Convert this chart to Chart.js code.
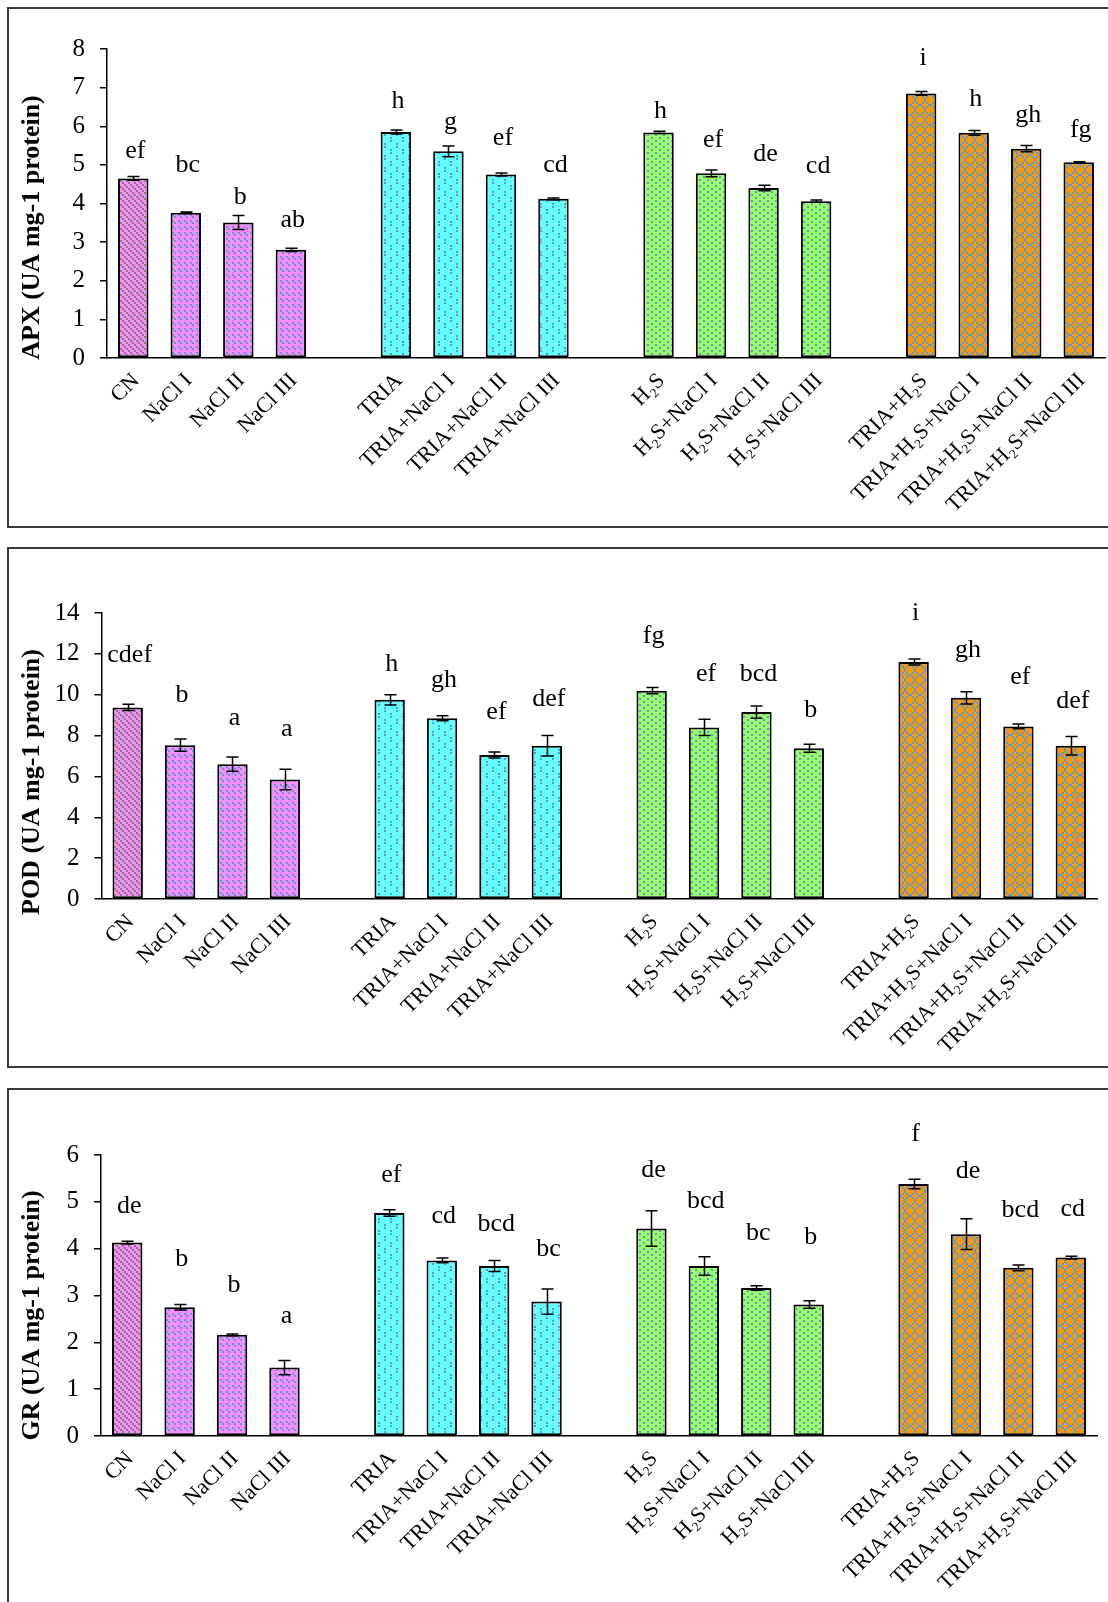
<!DOCTYPE html>
<html>
<head>
<meta charset="utf-8">
<script src="https://cdn.jsdelivr.net/npm/chart.js@4.4.1/dist/chart.umd.min.js"></script>
<style>
  html, body { margin: 0; padding: 0; background: #fff; }
  body { width: 1108px; height: 1602px; overflow: hidden; position: relative; }
  .frame { position: absolute; left: 7px; width: 1200px; border: 2px solid #3a3a3a; border-right: none; box-sizing: border-box; }
  .wrap { position: absolute; left: 10px; width: 1098px; }
</style>
</head>
<body>
<div class="frame" style="top:7px;height:521px"></div>
<div class="frame" style="top:547px;height:521px"></div>
<div class="frame" style="top:1088px;height:600px"></div>

<div class="wrap" style="top:10px;height:514px"><canvas id="apx"></canvas></div>
<div class="wrap" style="top:550px;height:515px"><canvas id="pod"></canvas></div>
<div class="wrap" style="top:1091px;height:511px"><canvas id="gr"></canvas></div>

<script>
// Treatments (blank entries separate the four treatment groups)
const categories = [
  'CN', 'NaCl I', 'NaCl II', 'NaCl III', '',
  'TRIA', 'TRIA+NaCl I', 'TRIA+NaCl II', 'TRIA+NaCl III', '',
  'H\u2082S', 'H\u2082S+NaCl I', 'H\u2082S+NaCl II', 'H\u2082S+NaCl III', '',
  'TRIA+H\u2082S', 'TRIA+H\u2082S+NaCl I', 'TRIA+H\u2082S+NaCl II', 'TRIA+H\u2082S+NaCl III'
];

// APX activity
const apxValues = [4.65, 3.76, 3.51, 2.80, null, 5.85, 5.35, 4.75, 4.12, null, 5.84, 4.78, 4.40, 4.06, null, 6.85, 5.83, 5.42, 5.07];
const apxErrors = [0.05, 0.02, 0.18, 0.04, null, 0.05, 0.14, 0.04, 0.02, null, 0.03, 0.09, 0.07, 0.03, null, 0.05, 0.06, 0.08, 0.01];
const apxLetters = ['ef', 'bc', 'b', 'ab', '', 'h', 'g', 'ef', 'cd', '', 'h', 'ef', 'de', 'cd', '', 'i', 'h', 'gh', 'fg'];
const apxLetterLevels = [5.36, 4.99, 4.17, 3.56, null, 6.65, 6.10, 5.68, 4.99, null, 6.39, 5.65, 5.28, 4.96, null, 7.76, 6.71, 6.28, 5.89];
const apxTicks = { max: 8, step: 1 };

// POD activity
const podValues = [9.38, 7.53, 6.60, 5.85, null, 9.75, 8.85, 7.05, 7.50, null, 10.20, 8.40, 9.15, 7.38, null, 11.60, 9.85, 8.45, 7.50];
const podErrors = [0.15, 0.30, 0.35, 0.50, null, 0.25, 0.12, 0.15, 0.50, null, 0.15, 0.40, 0.30, 0.20, null, 0.15, 0.30, 0.12, 0.45];
const podLetters = ['cdef', 'b', 'a', 'a', '', 'h', 'gh', 'ef', 'def', '', 'fg', 'ef', 'bcd', 'b', '', 'i', 'gh', 'ef', 'def'];
const podLetterLevels = [11.94, 9.98, 8.83, 8.33, null, 11.49, 10.69, 9.13, 9.78, null, 12.85, 10.99, 10.99, 9.23, null, 14.0, 12.19, 10.84, 9.68];
const podTicks = { max: 14, step: 2 };

// GR activity
const grValues = [4.13, 2.75, 2.16, 1.46, null, 4.76, 3.75, 3.63, 2.87, null, 4.43, 3.63, 3.16, 2.81, null, 5.38, 4.31, 3.59, 3.81];
const grErrors = [0.03, 0.06, 0.02, 0.15, null, 0.07, 0.05, 0.12, 0.27, null, 0.38, 0.20, 0.05, 0.08, null, 0.10, 0.33, 0.06, 0.03];
const grLetters = ['de', 'b', 'b', 'a', '', 'ef', 'cd', 'bcd', 'bc', '', 'de', 'bcd', 'bc', 'b', '', 'f', 'de', 'bcd', 'cd'];
const grLetterLevels = [4.91, 3.77, 3.21, 2.55, null, 5.56, 4.69, 4.52, 3.99, null, 5.67, 5.02, 4.34, 4.25, null, 6.44, 5.65, 4.82, 4.84];
const grTicks = { max: 6, step: 1 };

const SERIF = "'Liberation Serif', 'Times New Roman', serif";
const BLUE = '#5b9bd5';

// Pixel-tile fill patterns for the bars
function makePattern(base, ink, tile, cells, px) {
  const c = document.createElement('canvas');
  c.width = tile[0]; c.height = tile[1];
  const g = c.getContext('2d');
  g.fillStyle = base; g.fillRect(0, 0, c.width, c.height);
  g.fillStyle = ink;
  cells.forEach(([x, y]) => g.fillRect(x, y, px, px));
  return g.createPattern(c, 'repeat');
}
const fills = {
  control: makePattern('#ff8cff', '#7f7f7f', [6, 6], [[0, 0], [2, 2], [4, 4]], 2),
  salt: makePattern('#ff8cff', BLUE, [6, 6], [[0, 0], [2, 2]], 2),
  tria: makePattern('#66ffff', BLUE, [12, 12], [[2, 1], [2, 4], [8, 7], [8, 10]], 2),
  h2s: makePattern('#99ff66', BLUE, [8, 6], [[1, 1], [5, 4]], 2),
  both: makePattern('#ff9900', BLUE, [10, 10], [[4, 0], [2, 2], [6, 2], [0, 4], [8, 4], [2, 6], [6, 6], [4, 8]], 2)
};
function barFill(i) {
  if (i === 0) return fills.control;
  const g = Math.floor(i / 5);
  return [fills.salt, fills.tria, fills.h2s, fills.both][g];
}

// Error bars (mean ± SE)
const errorBars = {
  id: 'errorBars',
  afterDatasetsDraw(chart, args, opts) {
    const ctx = chart.ctx, y = chart.scales.y;
    const meta = chart.getDatasetMeta(0);
    const vals = chart.data.datasets[0].data;
    ctx.save();
    ctx.strokeStyle = '#000';
    ctx.lineWidth = 1.5;
    meta.data.forEach((bar, i) => {
      const v = vals[i], e = opts.errors[i];
      if (v == null || e == null) return;
      const x = Math.round(bar.x) + 0.5;
      const yt = y.getPixelForValue(v + e), yb = y.getPixelForValue(v - e);
      ctx.beginPath();
      ctx.moveTo(x, yt); ctx.lineTo(x, yb);
      ctx.moveTo(x - 6, yt); ctx.lineTo(x + 6, yt);
      ctx.moveTo(x - 6, yb); ctx.lineTo(x + 6, yb);
      ctx.stroke();
    });
    ctx.restore();
  }
};

// Significance letters above the bars
const sigLetters = {
  id: 'sigLetters',
  afterDatasetsDraw(chart, args, opts) {
    const ctx = chart.ctx, y = chart.scales.y;
    const meta = chart.getDatasetMeta(0);
    ctx.save();
    ctx.fillStyle = '#000';
    ctx.font = '26px ' + SERIF;
    ctx.textAlign = 'center';
    ctx.textBaseline = 'middle';
    meta.data.forEach((bar, i) => {
      const t = opts.letters[i], lv = opts.levels[i];
      if (!t || lv == null) return;
      ctx.fillText(t, bar.x + 2, y.getPixelForValue(lv));
    });
    ctx.restore();
  }
};

// Vertical axis title
const axisTitle = {
  id: 'axisTitle',
  afterDraw(chart, args, opts) {
    const ctx = chart.ctx, a = chart.chartArea;
    ctx.save();
    ctx.translate(opts.x, (a.top + a.bottom) / 2 + opts.shift);
    ctx.rotate(-Math.PI / 2);
    ctx.fillStyle = '#000';
    ctx.font = 'bold 26px ' + SERIF;
    ctx.textAlign = 'center';
    ctx.textBaseline = 'middle';
    ctx.fillText(opts.text, 0, 0);
    ctx.restore();
  }
};

function buildChart(id, values, errors, letters, levels, ticks, title, box) {
  return new Chart(document.getElementById(id), {
    type: 'bar',
    data: {
      labels: categories,
      datasets: [{
        data: values,
        backgroundColor: values.map((v, i) => barFill(i)),
        borderColor: '#000',
        borderWidth: 2,
        borderSkipped: false,
        categoryPercentage: 1,
        barPercentage: 0.58
      }]
    },
    options: {
      responsive: true,
      maintainAspectRatio: false,
      animation: false,
      events: [],
      layout: { padding: { top: box.top, right: box.right, left: 0, bottom: 0 } },
      plugins: {
        legend: { display: false },
        tooltip: { enabled: false },
        errorBars: { errors },
        sigLetters: { letters, levels },
        axisTitle: { text: title, x: 22, shift: box.titleShift }
      },
      scales: {
        x: {
          offset: true,
          grid: { display: false, drawTicks: false },
          border: { display: true, color: '#000', width: 1.5 },
          ticks: {
            color: '#000',
            font: { family: SERIF, size: 22 },
            minRotation: 45,
            maxRotation: 45,
            autoSkip: false,
            padding: 10,
            labelOffset: 3
          },
          afterFit(s) { s.height = box.xHeight; }
        },
        y: {
          min: 0,
          max: ticks.max,
          grid: { display: true, drawOnChartArea: false, drawTicks: true, tickLength: 7, color: '#000', lineWidth: 1.5 },
          border: { display: true, color: '#000', width: 1.5 },
          ticks: {
            stepSize: ticks.step,
            color: '#000',
            font: { family: SERIF, size: 25 },
            padding: 15
          },
          afterFit(s) { s.width = box.yWidth; }
        }
      }
    },
    plugins: [errorBars, sigLetters, axisTitle]
  });
}

buildChart('apx', apxValues, apxErrors, apxLetters, apxLetterLevels, apxTicks,
  'APX (UA mg-1 protein)', { top: 39, right: 3, xHeight: 166, yWidth: 97, titleShift: 24 });
buildChart('pod', podValues, podErrors, podLetters, podLetterLevels, podTicks,
  'POD (UA mg-1 protein)', { top: 63, right: 11, xHeight: 166, yWidth: 91.5, titleShift: 26 });
buildChart('gr', grValues, grErrors, grLetters, grLetterLevels, grTicks,
  'GR (UA mg-1 protein)', { top: 64, right: 11, xHeight: 166, yWidth: 91, titleShift: 20 });
</script>
</body>
</html>
